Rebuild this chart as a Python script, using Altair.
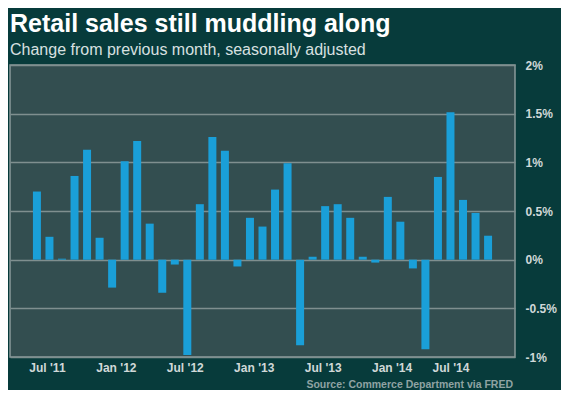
import altair as alt
import pandas as pd
import json

# Monthly retail sales change (%), Jul 2011 - Jul 2014
months = [d.strftime("%Y-%m") for d in pd.date_range("2011-07-01", periods=37, freq="MS")]
values = [0.70, 0.235, 0.01, 0.86, 1.13, 0.225, -0.287, 1.01, 1.22, 0.37,
          -0.34, -0.05, -0.98, 0.57, 1.26, 1.12, -0.07, 0.43, 0.34, 0.72,
          0.99, -0.88, 0.03, 0.55, 0.57, 0.43, 0.03, -0.03, 0.645, 0.39,
          -0.09, -0.92, 0.85, 1.515, 0.614, 0.48, 0.246]

tick_labels = ["Jul '11", "Jan '12", "Jul '12", "Jan '13", "Jul '13", "Jan '14", "Jul '14"]
tick_pos = [0.8, 6.3, 11.8, 17.3, 22.8, 28.3, 33.0]
y_ticks = [-1, -0.5, 0, 0.5, 1, 1.5, 2]

title_text = "Retail sales still muddling along"
subtitle_text = "Change from previous month, seasonally adjusted"
source_text = "Source: Commerce Department via FRED"

FONT = "Liberation Sans"

df = pd.DataFrame({"i": list(range(len(values))), "month": months, "v": values})

label_expr = f"{json.dumps(tick_labels)}[indexof({json.dumps(tick_pos)}, datum.value)]"

bars = alt.Chart(df).mark_bar(size=8, color="#1a9fd8").encode(
    x=alt.X("i:Q", scale=alt.Scale(domain=[-1.75, 37.75], nice=False, zero=False),
            axis=alt.Axis(values=tick_pos, labelExpr=label_expr, title=None, grid=False,
                          ticks=False, domain=False, labelFont=FONT, labelFontSize=12,
                          labelFontWeight="bold", labelColor="#d0d8d8", labelPadding=5,
                          labelFlush=False, labelOverlap=False)),
    y=alt.Y("v:Q", scale=alt.Scale(domain=[-1, 2], nice=False),
            axis=alt.Axis(orient="right", values=y_ticks, labelExpr="datum.value + '%'",
                          title=None, grid=True, gridColor="#7f8f8f", gridWidth=1.5,
                          ticks=False, domain=False, labelFont=FONT, labelFontSize=12,
                          labelFontWeight="bold", labelColor="#d0d8d8", labelPadding=10,
                          labelAlign="left", labelBaseline="middle", labelFlush=False)),
)

def txt(s, **kw):
    return alt.Chart(pd.DataFrame({"t": [s]})).mark_text(font=FONT, **kw).encode(text="t:N")

title = txt(title_text, fontSize=25, fontWeight="bold", color="#ffffff", align="left",
            baseline="alphabetic").encode(x=alt.value(0), y=alt.value(-33))
subtitle = txt(subtitle_text, fontSize=16, color="#d8e0e0", align="left",
               baseline="alphabetic").encode(x=alt.value(0), y=alt.value(-10))
source = txt(source_text, fontSize=10.5, fontWeight="bold", color="#8fa3a3", align="right",
             baseline="alphabetic").encode(x=alt.value(503), y=alt.value(323))

chart = alt.layer(bars, title, subtitle, source).properties(
    width=505, height=292,
    autosize=alt.AutoSizeParams(type="none"),
    padding={"left": 2, "top": 57, "right": 46, "bottom": 33},
    background="#073b3b",
).configure_view(fill="#334e50", stroke="#8a9a9a", strokeWidth=1.5)

chart.save("out.html", embed_options={"renderer": "svg", "actions": False})
